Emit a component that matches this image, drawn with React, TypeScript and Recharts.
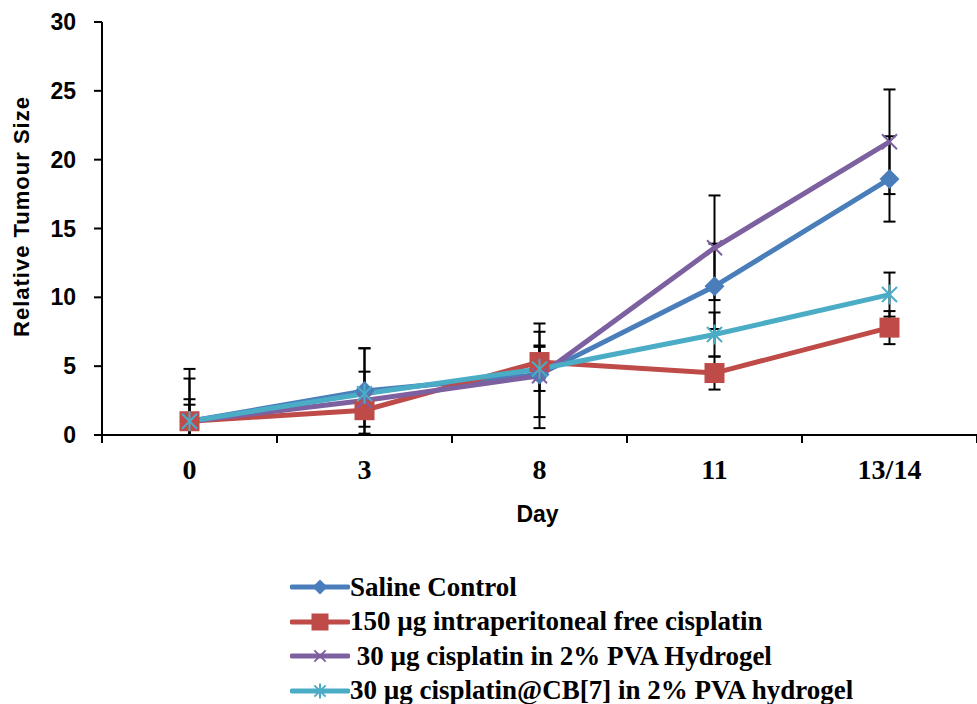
import { LineChart, Line, XAxis, YAxis, ErrorBar, Legend } from "recharts";

const days = ["0", "3", "8", "11", "13/14"];

// mean values and [lower, upper] error bar lengths (lower bars stop at the x axis)
const saline = [1.0, 3.2, 4.4, 10.8, 18.6];
const salineErr = [[1.0, 3.1], [3.1, 3.1], [3.1, 3.1], [3.1, 3.1], [3.1, 3.1]];

const freeCis = [1.0, 1.8, 5.3, 4.5, 7.8];
const freeCisErr = [[1.0, 1.2], [1.2, 1.2], [1.2, 1.2], [1.2, 1.2], [1.2, 1.2]];

const pvaGel = [1.0, 2.5, 4.3, 13.6, 21.3];
const pvaGelErr = [[1.0, 3.8], [2.5, 3.8], [3.8, 3.8], [3.8, 3.8], [3.8, 3.8]];

const cbGel = [1.0, 3.0, 4.8, 7.3, 10.2];
const cbGelErr = [[1.0, 1.6], [1.6, 1.6], [1.6, 1.6], [1.6, 1.6], [1.6, 1.6]];

const yTicks = [0, 5, 10, 15, 20, 25, 30];

const series = [
  { key: "saline", err: "salineErr", name: "Saline Control", color: "#4A7EBB", marker: "diamond" },
  { key: "freeCis", err: "freeCisErr", name: "150 µg intraperitoneal free cisplatin", color: "#BE4B48", marker: "square" },
  { key: "pvaGel", err: "pvaGelErr", name: " 30 µg cisplatin in 2% PVA Hydrogel", color: "#7D60A0", marker: "cross" },
  { key: "cbGel", err: "cbGelErr", name: "30 µg cisplatin@CB[7] in 2% PVA hydrogel", color: "#4BACC6", marker: "star" },
];

const data = days.map((d, i) => ({
  idx: i,
  day: d,
  saline: saline[i],
  salineErr: salineErr[i],
  freeCis: freeCis[i],
  freeCisErr: freeCisErr[i],
  pvaGel: pvaGel[i],
  pvaGelErr: pvaGelErr[i],
  cbGel: cbGel[i],
  cbGelErr: cbGelErr[i],
}));

// tick positions: category centres get labels, band edges get tick marks
const xTicks = [-0.5, 0, 0.5, 1, 1.5, 2, 2.5, 3, 3.5, 4, 4.5];

function Marker({ type, cx, cy, color, size }: any) {
  const h = size / 2;
  if (type === "diamond") {
    return (
      <polygon
        points={`${cx},${cy - h} ${cx + h},${cy} ${cx},${cy + h} ${cx - h},${cy}`}
        fill={color}
      />
    );
  }
  if (type === "square") {
    return <rect x={cx - h} y={cy - h} width={size} height={size} fill={color} />;
  }
  if (type === "cross") {
    const d = h * 0.75;
    return (
      <g stroke={color} strokeWidth={2}>
        <line x1={cx - d} y1={cy - d} x2={cx + d} y2={cy + d} />
        <line x1={cx - d} y1={cy + d} x2={cx + d} y2={cy - d} />
      </g>
    );
  }
  const d = h * 0.75;
  return (
    <g stroke={color} strokeWidth={2}>
      <line x1={cx - d} y1={cy - d} x2={cx + d} y2={cy + d} />
      <line x1={cx - d} y1={cy + d} x2={cx + d} y2={cy - d} />
      <line x1={cx} y1={cy - h} x2={cx} y2={cy + h} />
    </g>
  );
}

function XTick({ x, y, payload }: any) {
  const v = payload.value;
  if (Number.isInteger(v)) {
    return (
      <text
        x={x}
        y={y + 44}
        textAnchor="middle"
        fontFamily="'Liberation Serif', 'Times New Roman', serif"
        fontWeight="bold"
        fontSize={28}
        fill="#000"
      >
        {days[v]}
      </text>
    );
  }
  return <line x1={x} y1={y} x2={x} y2={y + 8} stroke="#000" strokeWidth={2} />;
}

function LegendBox() {
  return (
    <div>
      {series.map((s) => (
        <div key={s.key} style={{ display: "flex", alignItems: "center", height: 34.5 }}>
          <svg width={60} height={24}>
            <line x1={2} y1={12} x2={58} y2={12} stroke={s.color} strokeWidth={5} strokeLinecap="round" />
            <Marker type={s.marker} cx={30} cy={12} color={s.color} size={s.marker === "square" ? 17 : 15} />
          </svg>
          <span
            style={{
              fontFamily: "'Liberation Serif', 'Times New Roman', serif",
              fontWeight: "bold",
              fontSize: 27,
              whiteSpace: "pre",
              color: "#000",
            }}
          >
            {s.name}
          </span>
        </div>
      ))}
    </div>
  );
}

export default function App() {
  return (
    <div style={{ position: "absolute", left: 0, top: 0, background: "#fff" }}>
      <LineChart width={977} height={704} data={data} margin={{ top: 22, right: 0, left: 0, bottom: 239 }}>
        <XAxis
          dataKey="idx"
          type="number"
          domain={[-0.5, 4.5]}
          ticks={xTicks}
          interval={0}
          tick={<XTick />}
          tickLine={false}
          tickSize={0}
          tickMargin={0}
          axisLine={{ stroke: "#000", strokeWidth: 2 }}
          height={30}
          label={{
            content: ({ viewBox }: any) => (
              <text
                x={viewBox.x + viewBox.width / 2 - 2}
                y={viewBox.y + 87}
                textAnchor="middle"
                fontFamily="'Liberation Sans', Arial, sans-serif"
                fontWeight="bold"
                fontSize={23}
                fill="#000"
              >
                Day
              </text>
            ),
          }}
        />
        <YAxis
          width={102}
          domain={[0, 30]}
          ticks={yTicks}
          allowDataOverflow
          tickSize={8}
          tickMargin={18}
          tickLine={{ stroke: "#000", strokeWidth: 2 }}
          axisLine={{ stroke: "#000", strokeWidth: 2 }}
          tick={{ fill: "#000", fontSize: 23, fontWeight: "bold", fontFamily: "'Liberation Sans', Arial, sans-serif" }}
          label={{
            content: ({ viewBox }: any) => {
              const cx = 21;
              const cy = viewBox.y + viewBox.height / 2 - 12;
              return (
                <text
                  x={cx}
                  y={cy}
                  transform={`rotate(-90, ${cx}, ${cy})`}
                  textAnchor="middle"
                  dominantBaseline="central"
                  fontFamily="'Liberation Sans', Arial, sans-serif"
                  fontWeight="bold"
                  fontSize={22}
                  letterSpacing={1}
                  fill="#000"
                >
                  Relative Tumour Size
                </text>
              );
            },
          }}
        />
        <Legend
          layout="vertical"
          align="center"
          verticalAlign="middle"
          content={<LegendBox />}
          wrapperStyle={{ left: 290, top: 570, width: 660 }}
        />
        {series.map((s) => (
          <Line
            key={s.key}
            dataKey={s.key}
            name={s.name}
            stroke={s.color}
            strokeWidth={5}
            isAnimationActive={false}
            dot={(p: any) => (
              <Marker key={`${s.key}-${p.index}`} type={s.marker} cx={p.cx} cy={p.cy} color={s.color} size={20} />
            )}
            activeDot={false}
          >
            <ErrorBar dataKey={s.err} direction="y" width={6} stroke="#000" strokeWidth={2} />
          </Line>
        ))}
      </LineChart>
    </div>
  );
}
